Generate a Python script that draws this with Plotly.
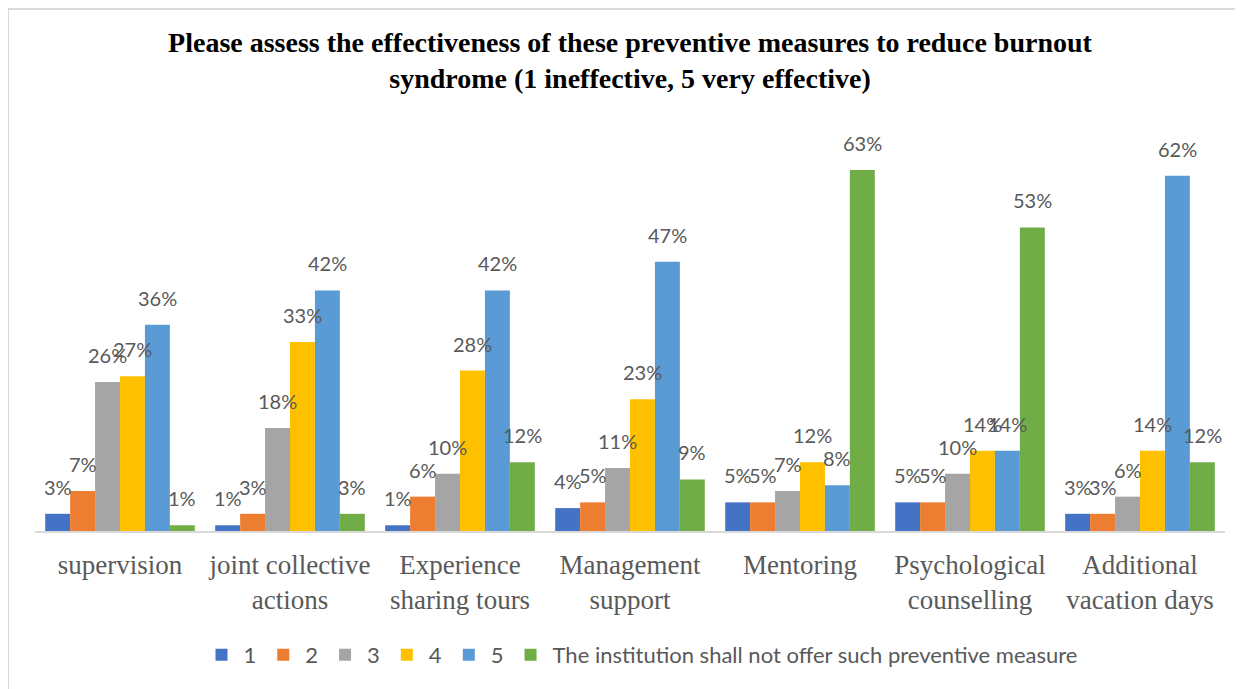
import plotly.graph_objects as go

# categories (x axis) and series
categories = [
    'supervision',
    'joint collective<br>actions',
    'Experience<br>sharing tours',
    'Management<br>support',
    'Mentoring',
    'Psychological<br>counselling',
    'Additional<br>vacation days',
]
series_names = ['1', '2', '3', '4', '5', 'The institution shall not offer such preventive measure']
s1 = [3, 1, 1, 4, 5, 5, 3]
s2 = [7, 3, 6, 5, 5, 5, 3]
s3 = [26, 18, 10, 11, 7, 10, 6]
s4 = [27, 33, 28, 23, 12, 14, 14]
s5 = [36, 42, 42, 47, 8, 14, 62]
s6 = [1, 3, 12, 9, 63, 53, 12]
colors = ['#4472C4', '#ED7D31', '#A5A5A5', '#FFC000', '#5B9BD5', '#70AD47']

W, H = 1243, 689
ML, MR, MT, MB = 27, 26, 122, 166
BARGAP = 0.12
LABEL_FONT = dict(family='Lato, Open Sans, sans-serif', size=20, color='#595959')

all_series = [s1, s2, s3, s4, s5, s6]

fig = go.Figure()
for name, vals, col in zip(series_names, all_series, colors):
    fig.add_trace(go.Bar(name=name, x=categories, y=vals, marker=dict(color=col, line=dict(width=0))))

# data labels above each bar (Excel "outside end" style, sitting a bit higher than plotly's text)
n = len(all_series)
w = (1 - BARGAP) / n
annotations = []
for j, vals in enumerate(all_series):
    for i, v in enumerate(vals):
        annotations.append(dict(
            x=i - (1 - BARGAP) / 2 + w * (j + 0.5), y=v, xref='x', yref='y',
            text='%d%%' % round(v), showarrow=False, yanchor='middle', yshift=27,
            font=LABEL_FONT,
        ))

pw = W - ML - MR
ph = H - MT - MB
fig.update_layout(
    width=W, height=H,
    margin=dict(l=ML, r=MR, t=MT, b=MB),
    barmode='group', bargap=BARGAP, bargroupgap=0,
    paper_bgcolor='white', plot_bgcolor='white',
    title=dict(
        text='<b>Please assess the effectiveness of these preventive measures to reduce burnout<br>syndrome (1 ineffective, 5 very effective)</b>',
        x=(ML + pw / 2) / W, xanchor='center', y=1 - 44 / H, yanchor='top',
        font=dict(family='Liberation Serif, Times New Roman, serif', size=28, color='#000000'),
    ),
    xaxis=dict(
        showline=True, linecolor='#d9d9d9', linewidth=1.5, ticks='',
        tickfont=dict(family='Liberation Serif, Times New Roman, serif', size=27, color='#595959'),
        showgrid=False, zeroline=False, ticklabelstandoff=9,
    ),
    yaxis=dict(range=[0, 70], visible=False, showgrid=False, zeroline=False),
    legend=dict(
        orientation='h', x=(633 - ML) / pw, xanchor='center', y=-(647 - (H - MB)) / ph, yanchor='middle',
        font=dict(family='Lato, Open Sans, sans-serif', size=22, color='#595959'),
        itemwidth=34, traceorder='normal',
    ),
    annotations=annotations,
    showlegend=True,
)

# light chart frame like the Excel export
fig.add_shape(type='rect', xref='paper', yref='paper',
              x0=(0 - ML) / pw, x1=(W + 20 - ML) / pw,
              y0=-(H + 20 - (H - MB)) / ph, y1=1 + (MT - 1) / ph,
              line=dict(color='#d9d9d9', width=2), layer='below')

fig.write_html('out.html')
